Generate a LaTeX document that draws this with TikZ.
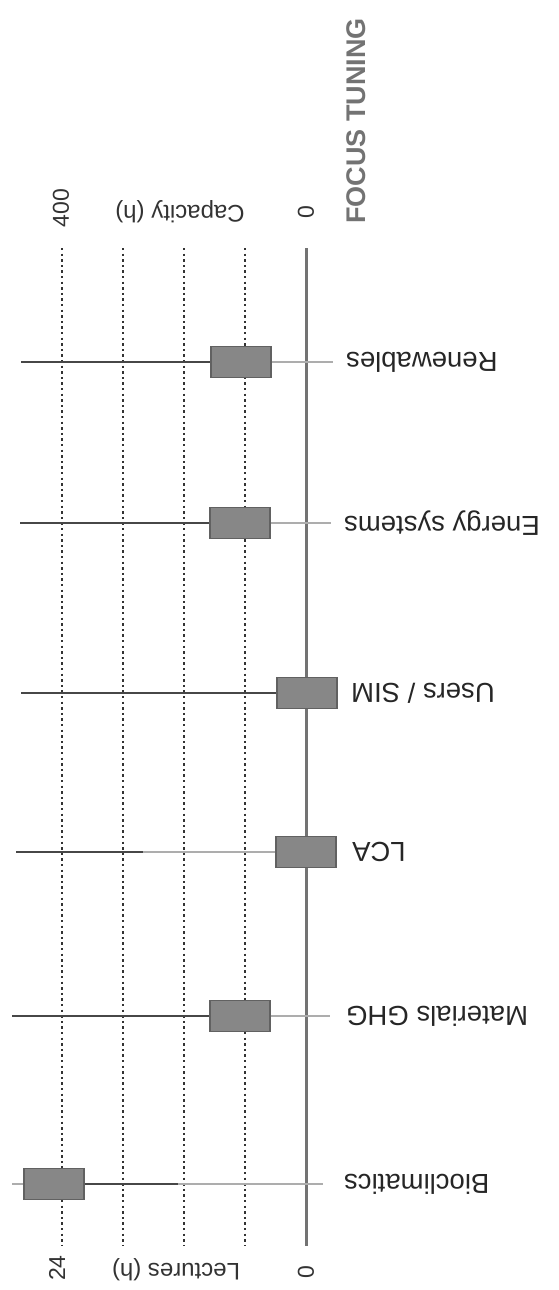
\documentclass[tikz,border=0pt]{standalone}
\usepackage{fontspec}
\setmainfont{Liberation Sans}

\begin{document}
\begin{tikzpicture}[x=1pt,y=-1pt,
    grid/.style={draw=black!80, line width=2.4pt, dash pattern=on 2.4pt off 3.2pt},
    axisline/.style={draw=black!55, line width=3pt},
    hbox/.style={draw=black!62, fill=black!47, line width=1.6pt,
        minimum width=60pt, minimum height=31pt, inner sep=0pt},
    whisk/.style={draw=black!72, line width=1.4pt},
    lwhisk/.style={draw=black!32, line width=1.2pt},
    tick/.style={rotate=90, inner sep=0pt, text=black!80, font=\fontsize{23}{27}\selectfont},
    ttl/.style={rotate=180, inner sep=0pt, text=black!80, font=\fontsize{24}{29}\selectfont},
    cat/.style={rotate=180, inner sep=0pt, anchor=east, text=black!85, font=\fontsize{27.5}{33}\selectfont}]

    \useasboundingbox (0,0) rectangle (558,1290);

    % Draw the dotted grid lines
    \draw[grid] (62, 248) -- (62, 1246);
    \draw[grid] (123, 248) -- (123, 1246);
    \draw[grid] (184, 248) -- (184, 1246);
    \draw[grid] (245, 248) -- (245, 1246);

    % Draw the zero axis
    \draw[axisline] (306, 248) -- (306, 1246);

    % Draw the top labels
    \node[tick] (cap400) at (61, 208) {400};
    \node[ttl] (captitle) at (180, 212) {Capacity (h)};
    \node[tick] (cap0) at (306, 212) {0};
    \node[rotate=90, anchor=west, inner sep=0pt, text=black!55,
        font=\fontsize{27}{32}\selectfont\bfseries] (focus) at (356, 224) {FOCUS TUNING};

    % Draw the bottom labels
    \node[tick] (lec24) at (57, 1268) {24};
    \node[ttl] (lectitle) at (176, 1270) {Lectures (h)};
    \node[tick] (lec0) at (306, 1272) {0};

    % Renewables
    \node[hbox] (ren) at (241, 362) {};
    \coordinate (renL) at (21, 362);
    \coordinate (renR) at (333, 362);
    \draw[whisk] (renL) -- (ren.west);
    \draw[lwhisk] (ren.east) -- (renR);
    \node[cat] (renlab) at (346, 362) {Renewables};

    % Energy systems
    \node[hbox] (ene) at (240, 523) {};
    \coordinate (eneL) at (20, 523);
    \coordinate (eneR) at (331, 523);
    \draw[whisk] (eneL) -- (ene.west);
    \draw[lwhisk] (ene.east) -- (eneR);
    \node[cat] (enelab) at (344, 523) {Energy systems};

    % Users / SIM
    \node[hbox] (usr) at (307, 693) {};
    \coordinate (usrL) at (21, 693);
    \draw[whisk, line width=1.2pt] (usrL) -- (usr.west);
    \node[cat] (usrlab) at (351, 693) {Users / SIM};

    % LCA
    \node[hbox] (lca) at (306, 852) {};
    \coordinate (lcaL) at (16, 852);
    \coordinate (lcaM) at (143, 852);
    \draw[whisk] (lcaL) -- (lcaM);
    \draw[lwhisk] (lcaM) -- (lca.west);
    \node[cat] (lcalab) at (352, 852) {LCA};

    % Materials GHG
    \node[hbox] (mat) at (240, 1016) {};
    \coordinate (matL) at (12, 1016);
    \coordinate (matR) at (330, 1016);
    \draw[whisk] (matL) -- (mat.west);
    \draw[lwhisk] (mat.east) -- (matR);
    \node[cat] (matlab) at (346, 1016) {Materials GHG};

    % Bioclimatics
    \node[hbox] (bio) at (54, 1184) {};
    \coordinate (bioL) at (12, 1184);
    \coordinate (bioM) at (178, 1184);
    \coordinate (bioR) at (323, 1184);
    \draw[lwhisk] (bioL) -- (bio.west);
    \draw[whisk] (bio.east) -- (bioM);
    \draw[lwhisk] (bioM) -- (bioR);
    \node[cat] (biolab) at (344, 1184) {Bioclimatics};

\end{tikzpicture}
\end{document}
